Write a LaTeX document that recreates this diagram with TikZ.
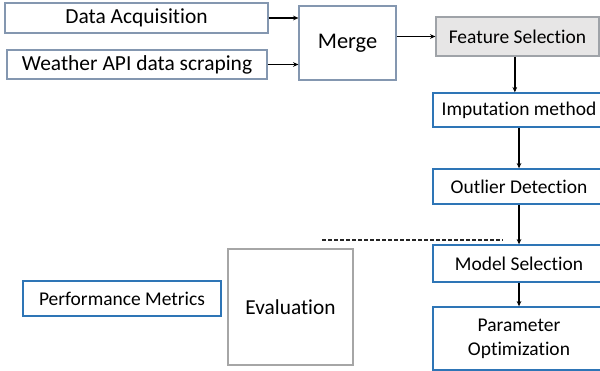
\documentclass[tikz,border=0pt]{standalone}
\usepackage{fontspec}
\setmainfont[Ligatures=NoCommon]{Carlito}
\usetikzlibrary{arrows.meta, positioning, shadows}
\definecolor{boxblue}{HTML}{2E75B6}
\definecolor{boxslate}{HTML}{8497B0}
\definecolor{boxgray}{HTML}{A6A6A6}
\definecolor{fillgray}{HTML}{E7E6E6}

\begin{document}
\begin{tikzpicture}[
    x=0.75pt, y=-0.75pt,
    every node/.style={font=\fontsize{14.6}{16}\selectfont, inner sep=0pt, align=center},
    plain/.style={draw=boxslate, line width=0.9pt, fill=white},
    stage/.style={draw=boxblue, line width=1pt, fill=white, minimum width=129pt,
        drop shadow={shadow xshift=0.7pt, shadow yshift=-0.9pt, opacity=0.35}},
    flow/.style={-{Stealth[length=4pt, width=3.5pt]}, line width=1.1pt, black}
]
    \useasboundingbox (0,0) rectangle (600,371);

    % data sources
    \node[plain, minimum width=197.25pt, minimum height=22.5pt, font=\fontsize{16.1}{18}\selectfont] (daq) at (136.5,18) {Data Acquisition};
    \node[plain, minimum width=195pt, minimum height=21.75pt, font=\fontsize{16.1}{18}\selectfont] (wapi) at (137,64.5) {\raisebox{1.5pt}{Weather API data scraping}};
    \node[plain, minimum width=72.75pt, minimum height=55.5pt, font=\fontsize{16.8}{18}\selectfont] (merge) at (347.5,43) {Merge};

    % preprocessing and modelling chain
    \node[plain, fill=fillgray, draw=boxgray!80!boxslate, minimum width=122.25pt, minimum height=29.25pt] (fs) at (517.5,36.5) {Feature Selection};
    \node[stage, minimum height=25.5pt] (imp) at (519,110) {Imputation method};
    \node[stage, minimum height=26.25pt] (out) at (519,186.5) {Outlier Detection};
    \node[stage, minimum height=27.75pt] (msel) at (519,263.5) {Model Selection};
    \node[stage, minimum height=47.25pt] (popt) at (519,338.5) {Parameter\\[2pt]Optimization};

    % evaluation
    \node[plain, draw=boxgray, minimum width=93.75pt, minimum height=87pt, font=\fontsize{16}{18}\selectfont] (eval) at (290.5,307) {Evaluation};
    \node[stage, minimum width=148.5pt, minimum height=26.25pt] (perf) at (122,298.5) {Performance Metrics};

    \coordinate (dl) at (322,240);
    \coordinate (dr) at (503,240);

    \draw[flow] (daq.east) -- (daq.east -| merge.west);
    \draw[flow] (wapi.east) -- (wapi.east -| merge.west);
    \draw[flow] (merge.east |- fs.west) -- (fs.west);
    \draw[flow] ([xshift=-2pt]fs.south) -- ([xshift=-2pt]fs.south |- imp.north);
    \draw[flow] (imp) -- (out);
    \draw[flow] (out) -- (msel);
    \draw[flow] (msel) -- (popt);
    \draw[dash pattern=on 3pt off 1.5pt, line width=0.8pt, black!85] (dl) -- (dr);
\end{tikzpicture}
\end{document}
